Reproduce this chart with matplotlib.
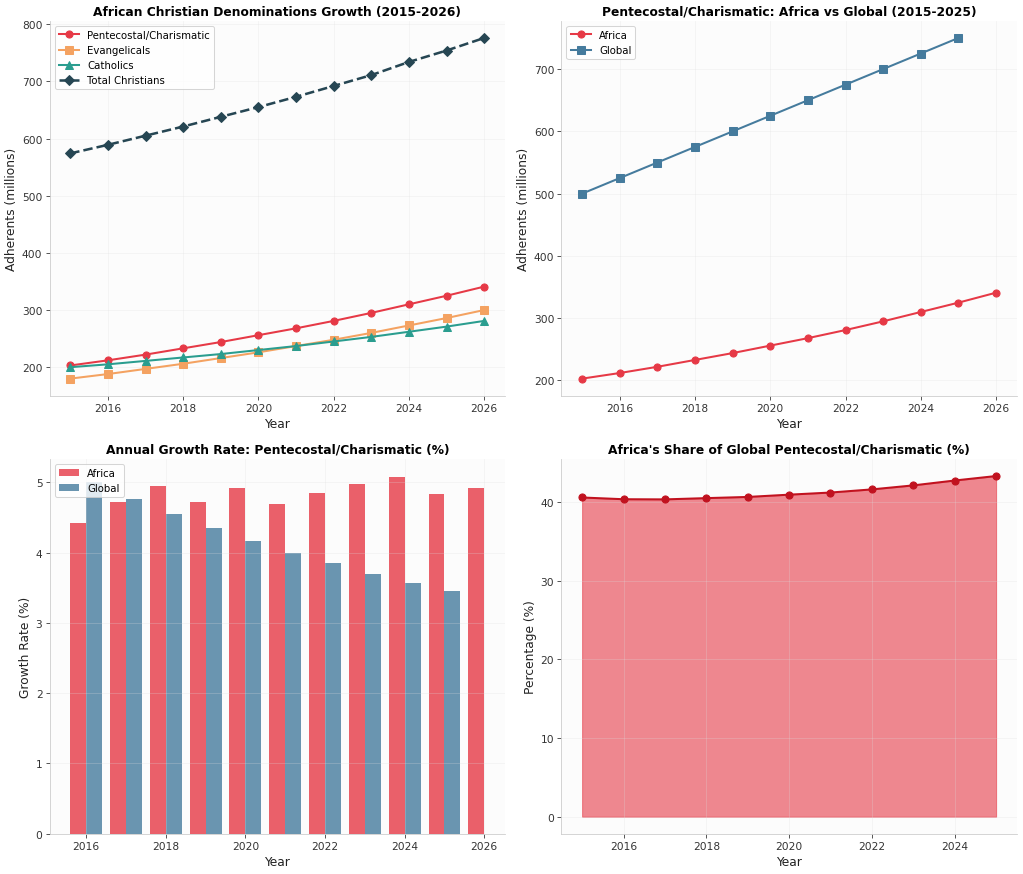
import numpy as np
import matplotlib
matplotlib.use('Agg')
import matplotlib.pyplot as plt

# 数据
years = [2015, 2016, 2017, 2018, 2019, 2020, 2021, 2022, 2023, 2024, 2025, 2026]
pentecostal = [203, 212, 222, 233, 244, 256, 268, 281, 295, 310, 325, 341]
evangelicals = [180, 188, 197, 206, 216, 226, 237, 248, 260, 273, 286, 300]
catholics = [200, 205, 211, 217, 223, 230, 237, 245, 253, 262, 271, 281]
total_christians = [574, 589, 605, 621, 638, 655, 673, 692, 711, 734, 754, 776]

global_years = [2015, 2016, 2017, 2018, 2019, 2020, 2021, 2022, 2023, 2024, 2025]
global_pente = [500, 525, 550, 575, 600, 625, 650, 675, 700, 725, 750]

growth_years = [2016, 2017, 2018, 2019, 2020, 2021, 2022, 2023, 2024, 2025, 2026]
africa_growth = [4.43, 4.72, 4.95, 4.72, 4.92, 4.69, 4.85, 4.98, 5.08, 4.84, 4.92]
global_growth_years = [2016, 2017, 2018, 2019, 2020, 2021, 2022, 2023, 2024, 2025]
global_growth = [5.00, 4.76, 4.55, 4.35, 4.17, 4.00, 3.85, 3.70, 3.57, 3.45]

share_years = [2015, 2016, 2017, 2018, 2019, 2020, 2021, 2022, 2023, 2024, 2025]
africa_share = [40.60, 40.38, 40.36, 40.52, 40.67, 40.96, 41.23, 41.63, 42.14, 42.76, 43.33]

RED = '#E63946'
ORANGE = '#F4A261'
TEAL = '#2A9D8F'
DARK = '#264653'
BLUE = '#457B9D'

plt.rcParams['font.family'] = ['DejaVu Sans']
plt.rcParams['axes.edgecolor'] = '#cccccc'
plt.rcParams['axes.labelcolor'] = '#222222'
plt.rcParams['xtick.color'] = '#333333'
plt.rcParams['ytick.color'] = '#333333'

fig, axes = plt.subplots(2, 2, figsize=(14, 11.963), dpi=73.14)
for ax in axes.flat:
    ax.set_facecolor('#fcfcfc')
    ax.grid(True, alpha=0.3, color='#dddddd')
    ax.spines['top'].set_visible(False)
    ax.spines['right'].set_visible(False)
    ax.tick_params(labelsize=10.5)

# 子图1：各教派增长
ax = axes[0, 0]
ax.plot(years, pentecostal, color=RED, marker='o', lw=2, ms=7, label='Pentecostal/Charismatic')
ax.plot(years, evangelicals, color=ORANGE, marker='s', lw=2, ms=7, label='Evangelicals')
ax.plot(years, catholics, color=TEAL, marker='^', lw=2, ms=7, label='Catholics')
ax.plot(years, total_christians, color=DARK, marker='D', ls='--', lw=2.5, ms=7, label='Total Christians')
ax.set_title('African Christian Denominations Growth (2015-2026)', fontsize=12, fontweight='bold')
ax.set_xlabel('Year', fontsize=12)
ax.set_ylabel('Adherents (millions)', fontsize=12)
ax.legend(loc='upper left', fontsize=10)

# 子图2：非洲 vs 全球
ax = axes[0, 1]
ax.plot(years, pentecostal, color=RED, marker='o', lw=2, ms=7, label='Africa')
ax.plot(global_years, global_pente, color=BLUE, marker='s', lw=2, ms=7, label='Global')
ax.set_title('Pentecostal/Charismatic: Africa vs Global (2015-2025)', fontsize=12, fontweight='bold')
ax.set_xlabel('Year', fontsize=12)
ax.set_ylabel('Adherents (millions)', fontsize=12)
ax.legend(loc='upper left', fontsize=10)

# 子图3：年增长率
ax = axes[1, 0]
w = 0.4
ax.bar(np.array(growth_years) - w / 2, africa_growth, width=w, color=RED, alpha=0.8, label='Africa')
ax.bar(np.array(global_growth_years) + w / 2, global_growth, width=w, color=BLUE, alpha=0.8, label='Global')
ax.set_title('Annual Growth Rate: Pentecostal/Charismatic (%)', fontsize=12, fontweight='bold')
ax.set_xlabel('Year', fontsize=12)
ax.set_ylabel('Growth Rate (%)', fontsize=12)
ax.legend(loc='upper left', fontsize=10)

# 子图4：非洲占比
ax = axes[1, 1]
ax.fill_between(share_years, africa_share, color=RED, alpha=0.6)
ax.plot(share_years, africa_share, color='#C1121F', marker='o', lw=2, ms=7)
ax.set_title("Africa's Share of Global Pentecostal/Charismatic (%)", fontsize=12, fontweight='bold')
ax.set_xlabel('Year', fontsize=12)
ax.set_ylabel('Percentage (%)', fontsize=12)

plt.subplots_adjust(left=0.0484, right=0.993, top=0.975, bottom=0.046, wspace=0.124, hspace=0.169)
plt.savefig('out.png', dpi=73.14)
